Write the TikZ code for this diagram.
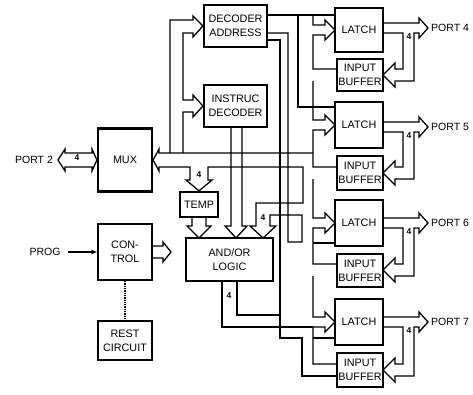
\documentclass[tikz,border=0pt]{standalone}
\usepackage{fontspec}
\setsansfont{Liberation Sans}
\usetikzlibrary{arrows.meta}
\tikzset{
	blk/.style={draw, line width=2.2pt, align=center, inner sep=0pt, font=\sffamily\fontsize{10.8}{14}\selectfont},
	wire/.style={line width=1.3pt, line join=miter},
	lbl/.style={font=\sffamily\fontsize{10.5}{12}\selectfont, inner sep=1pt},
	num/.style={font=\sffamily\bfseries\fontsize{8.5}{9}\selectfont, inner sep=0.5pt}
}
% port bus: latch row y, buffer row y, port name
\def\portio(#1,#2)#3#4{%
	\draw[wire] (383,#1-5) -- (419,#1-5) -- (419,#1-10) -- (428,#1) -- (419,#1+10) -- (419,#1+5) -- (414,#1+5) -- (414,#2+6) -- (395,#2+6) -- (395,#2+12) -- (383,#2) -- (395,#2-12) -- (395,#2-6) -- (403,#2-6) -- (403,#1+5) -- (383,#1+5);
	\node[num] at (409,#1+9) {4};
	\node[lbl, anchor=west] (#4) at (430,#1) {#3};
}
% latch input arrow and link to its buffer
\def\latchin(#1,#2,#3){%
	\draw[wire] (313,#3) -- (313,#1-5) -- (325,#1-5) -- (325,#1-10) -- (335,#1) -- (325,#1+10) -- (325,#1+5) -- (313,#1+5) -- (313,#2-6) -- (337,#2-6);
}

\begin{document}
\begin{tikzpicture}[x=1pt,y=-1pt]
	\useasboundingbox (0,0) rectangle (473,394);
	
	%%% blocks
	\node[blk, minimum width=63, minimum height=42] (dec) at (235.5,26) {DECODER\\ADDRESS};
	\node[blk, minimum width=63, minimum height=42] (ins) at (235.5,106) {INSTRUC\\DECODER};
	\node[blk, minimum width=54, minimum height=63] (mux) at (125,160) {MUX};
	\node[blk, minimum width=38, minimum height=25] (temp) at (199,204.5) {TEMP};
	\node[blk, minimum width=87, minimum height=43] (logic) at (229.5,259.5) {AND/OR\\LOGIC};
	\node[blk, minimum width=54, minimum height=56] (ctrl) at (125,252) {CON-\\TROL};
	\node[blk, minimum width=54, minimum height=39] (rest) at (125,340.5) {REST\\CIRCUIT};
	
	\node[blk, minimum width=48, minimum height=44] (L1) at (359,30) {LATCH};
	\node[blk, minimum width=46, minimum height=32] (B1) at (360,75) {INPUT\\BUFFER};
	\node[blk, minimum width=48, minimum height=46] (L2) at (359,125) {LATCH};
	\node[blk, minimum width=46, minimum height=34] (B2) at (360,173) {INPUT\\BUFFER};
	\node[blk, minimum width=48, minimum height=46] (L3) at (359,223) {LATCH};
	\node[blk, minimum width=46, minimum height=33] (B3) at (360,270.5) {INPUT\\BUFFER};
	\node[blk, minimum width=48, minimum height=46] (L4) at (359,322) {LATCH};
	\node[blk, minimum width=46, minimum height=34] (B4) at (360,370) {INPUT\\BUFFER};
	
	%%% port 2, prog, control
	\node[lbl] (p2) at (34,160) {PORT 2};
	\draw[wire] (mux.west) -- (92,149) -- (92,153) -- (65,153) -- (65,149) -- (58,160) -- (65,171) -- (65,167) -- (92,167) -- (92,171) -- cycle;
	\node[num] at (77,158) {4};
	
	\node[lbl] (prog) at (45,252) {PROG};
	\draw[wire, -{Stealth[length=6pt, width=5pt]}] ([xshift=6pt]prog.east) -- (ctrl.west);
	\draw[wire] (152,246) -- (163,246) -- (163,242) -- (171,252) -- (163,262) -- (163,258) -- (152,258);
	\draw[wire, densely dotted] (ctrl.south) -- (rest.north);
	
	%%% internal bus
	\draw[wire] (313,153) -- (159,153) -- (159,149) -- (mux.east) -- (159,171) -- (159,167) -- (190,167) -- (190,180) -- (186,180) -- (temp.north) -- (212,180) -- (208,180) -- (208,167) -- (303,167) -- (303,203) -- (256,203) -- (256,226) -- (250,226) -- (263,238) -- (276,226) -- (270,226) -- (270,215) -- (302,215) -- (302,242) -- (288,242) -- (288,33) -- (267,33);
	\node[num] at (199,175) {4};
	\node[num] at (263,218) {4};
	
	\draw[wire] (170,153) -- (170,20) -- (193,20) -- (193,16) -- (dec.west) -- (193,37) -- (193,33) -- (183,33) -- (183,100) -- (193,100) -- (193,95) -- (ins.west) -- (193,117) -- (193,112) -- (183,112) -- (183,153);
	
	\draw[wire] (231,127) -- (231,226) -- (225,226) -- (236,238) -- (247,226) -- (242,226) -- (242,127);
	\draw[wire] (192,217) -- (192,226) -- (187,226) -- (199,238) -- (211,226) -- (206,226) -- (206,217);
	
	%%% logic out to latches
	\draw[wire] (222,281) -- (222,327) -- (313,327);
	\draw[wire] (237,281) -- (237,315) -- (280,315);
	\node[num] at (229,296) {4};
	\draw[wire] (267,40) -- (280,40) -- (280,338) -- (302,338) -- (302,376) -- (337,376);
	
	%%% decoder strobes
	\draw[wire] (267,15) -- (335,15);
	\draw[wire] (298,15) -- (298,107) -- (335,107);
	\draw[wire] (313,243) -- (335,243);
	\draw[wire] (313,338) -- (335,338);
	
	%%% latch column
	\latchin(30,75,15)
	\latchin(125,173,81)
	\latchin(223,270,179)
	\latchin(322,370,276)
	
	%%% ports
	\portio(28,75){PORT 4}{p4}
	\portio(127,173){PORT 5}{p5}
	\portio(223,270){PORT 6}{p6}
	\portio(322,370){PORT 7}{p7}
\end{tikzpicture}
\end{document}
